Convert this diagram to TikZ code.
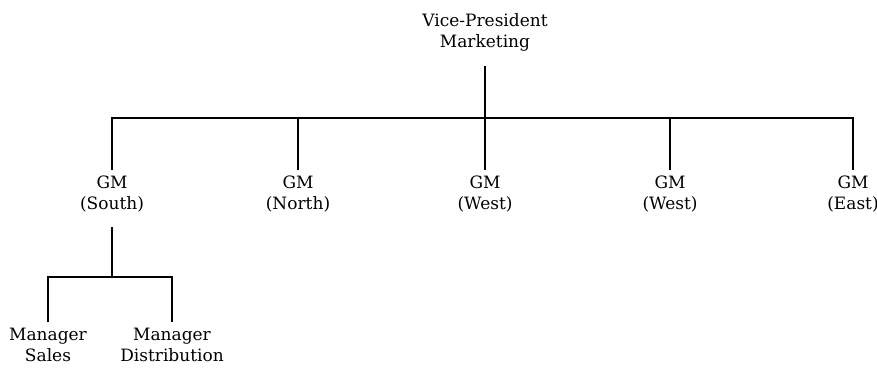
\documentclass[tikz,border=0pt]{standalone}
\usepackage{fontspec}
\setmainfont{DejaVu Serif}
\usetikzlibrary{positioning}
\tikzset{
  post/.style={align=center, inner sep=0pt, font=\fontsize{17}{21}\selectfont},
  gm/.style={post, anchor=north, outer ysep=6pt},
  mgr/.style={post, anchor=north, outer ysep=6pt},
  link/.style={line width=1.6pt},
}
\begin{document}
\begin{tikzpicture}[x=1pt, y=-1pt]
  \useasboundingbox (0,0) rectangle (877,369);
  % Vice-President
  \node[post, anchor=north] (vp) at (485,13) {Vice-President\\Marketing};
  % General managers
  \node[gm] (gmS) at (112,170) {GM\\(South)};
  \node[gm] (gmN) at (298,170) {GM\\(North)};
  \node[gm] (gmW) at (485,170) {GM\\(West)};
  \node[gm] (gmW2) at (670,170) {GM\\(West)};
  \node[gm] (gmE) at (853,170) {GM\\(East)};
  % Managers under South
  \node[mgr] (mgrS) at (48,322) {Manager\\Sales};
  \node[mgr] (mgrD) at (172,322) {Manager\\Distribution};
  % Top level lines
  \coordinate (bar) at (485,118);
  \draw[link] ([yshift=-15pt]vp.south) -- (gmW.north);
  \draw[link] (gmS.north) |- (bar) -| (gmE.north);
  \draw[link] (gmN.north) -- (gmN.north |- bar);
  \draw[link] (gmW2.north) -- (gmW2.north |- bar);
  % South branch
  \coordinate (sub) at (112,277);
  \draw[link] ([yshift=-9pt]gmS.south) -- (sub);
  \draw[link] (mgrS.north) |- (sub) -| (mgrD.north);
\end{tikzpicture}
\end{document}
